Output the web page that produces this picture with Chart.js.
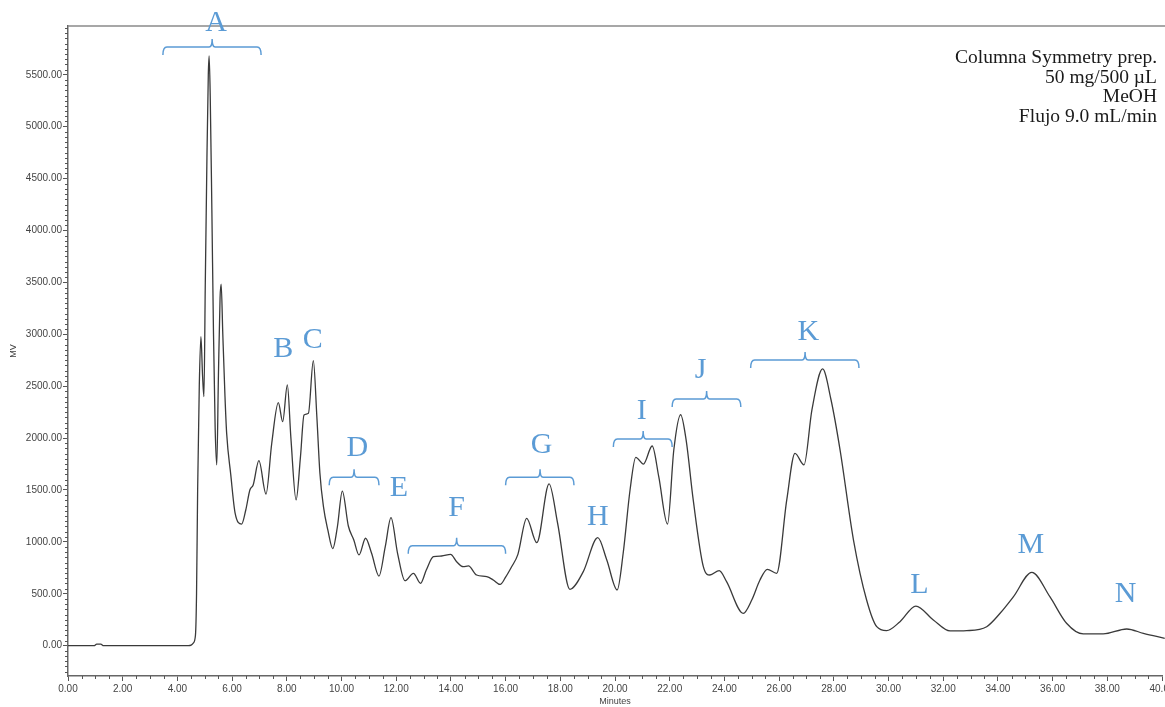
<!DOCTYPE html>
<html>
<head>
<meta charset="utf-8">
<title>Cromatograma</title>
<script src="https://cdn.jsdelivr.net/npm/chart.js@4/dist/chart.umd.min.js"></script>
<style>
    html, body { margin: 0; padding: 0; background: #ffffff; }
    #wrap { width: 1165px; height: 707px; }
</style>
</head>
<body>
<div id="wrap"><canvas id="chromatogram" width="1165" height="707"></canvas></div>
<script>
// retention time (minutes) and detector signal (MV)
var minutes = [
    0, 0.95, 1.05, 1.2, 1.3, 4.4, 4.5, 4.58, 4.66, 4.70, 4.74, 4.80, 4.86, 4.92, 4.97,
    5.02, 5.08, 5.13, 5.16, 5.20, 5.26, 5.32, 5.38, 5.44, 5.50, 5.56, 5.60, 5.66, 5.74,
    5.80, 5.95, 6.11, 6.35, 6.5, 6.65, 6.77, 6.98, 7.24, 7.45, 7.69, 7.85, 8.02, 8.15,
    8.34, 8.5, 8.63, 8.79, 8.97, 9.1, 9.21, 9.34, 9.5, 9.68, 9.85, 10.03, 10.25, 10.45,
    10.64, 10.88, 11.1, 11.37, 11.6, 11.81, 12.05, 12.32, 12.63, 12.89, 13.1, 13.36,
    13.66, 13.99, 14.21, 14.45, 14.64, 14.94, 15.31, 15.55, 15.8, 16.0, 16.22, 16.45,
    16.77, 17.14, 17.59, 17.9, 18.35, 18.84, 19.37, 19.7, 20.08, 20.3, 20.55, 20.76,
    21.04, 21.36, 21.6, 21.92, 22.15, 22.40, 22.6, 22.86, 23.23, 23.47, 23.81, 24.08,
    24.69, 25.0, 25.30, 25.57, 25.91, 26.28, 26.58, 26.91, 27.2, 27.59, 27.9, 28.23,
    28.72, 29.20, 29.57, 29.93, 30.42, 31.0, 31.64, 32.25, 32.86, 33.59, 34.08, 34.57,
    35.24, 35.90, 36.51, 37.12, 37.85, 38.71, 39.32, 40.1
];
var signal = [
    0, 0, 15, 15, 0, 0, 5, 25, 100, 500, 1500, 2500, 2977, 2600, 2400,
    3500, 4700, 5500, 5682, 5300, 4200, 3000, 2100, 1741, 2600, 3350, 3483, 3000, 2400,
    2049, 1650, 1278, 1172, 1307, 1500, 1548, 1782, 1461, 1950, 2341, 2158, 2512, 2000,
    1404, 1821, 2223, 2239, 2746, 2200, 1664, 1340, 1115, 935, 1146, 1490, 1153, 1018,
    874, 1035, 890, 671, 954, 1233, 890, 626, 697, 601, 729, 857,
    864, 880, 809, 761, 768, 681, 665, 633, 590, 660, 760, 880,
    1227, 992, 1558, 1182, 543, 713, 1041, 826, 537, 893, 1500, 1815,
    1750, 1924, 1628, 1172, 1885, 2225, 1982, 1404, 761, 681, 723, 617,
    312, 440, 633, 736, 697, 1404, 1853, 1741, 2271, 2666, 2367, 1885,
    1018, 440, 183, 145, 231, 382, 248, 142, 145, 183, 312, 472,
    707, 472, 216, 113, 113, 161, 119, 71
];

// tick labels
var xTickValues = [0, 2, 4, 6, 8, 10, 12, 14, 16, 18, 20, 22, 24, 26, 28, 30, 32, 34, 36, 38, 40];
var yTickValues = [0, 500, 1000, 1500, 2000, 2500, 3000, 3500, 4000, 4500, 5000, 5500];

// peak group labels: letter position and optional bracket (minutes / MV)
var peakLetters = ['A', 'B', 'C', 'D', 'E', 'F', 'G', 'H', 'I', 'J', 'K', 'L', 'M', 'N'];
var letterX = [5.41, 7.87, 8.95, 10.58, 12.10, 14.21, 17.32, 19.37, 20.98, 23.13, 27.07, 31.13, 35.20, 38.67];
var letterY = [5999, 2855, 2945, 1902, 1516, 1324, 1934, 1243, 2264, 2656, 3019, 585, 970, 498];
var bracketFrom = [3.47, null, null, 9.55, null, 12.44, 16.00, null, 19.94, 22.09, 24.96, null, null, null];
var bracketTo = [7.06, null, null, 11.37, null, 16.00, 18.50, null, 22.09, 24.60, 28.92, null, null, null];
var bracketMid = [5.27, null, null, 10.46, null, 14.21, 17.26, null, 21.03, 23.35, 26.95, null, null, null];
var bracketY = [5768, null, null, 1622, null, 963, 1622, null, 1991, 2377, 2752, null, null, null];

var conditions = ['Columna Symmetry prep.', '50 mg/500 \u00b5L', 'MeOH', 'Flujo 9.0 mL/min'];

var BLUE = '#5b9bd5';

/**
 * Draws minor ticks, the frame top line, the peak labels and the run conditions
 */
var decorPlugin = {
    id: 'decor',
    afterDraw: function(chart) {
        var ctx = chart.ctx;
        var xs = chart.scales.x;
        var ys = chart.scales.y;
        var area = chart.chartArea;

        ctx.save();

        // frame top line
        ctx.strokeStyle = '#8a8a8a';
        ctx.lineWidth = 1.5;
        ctx.beginPath();
        ctx.moveTo(area.left, area.top);
        ctx.lineTo(chart.width, area.top);
        ctx.stroke();

        // minor ticks
        ctx.strokeStyle = '#555';
        ctx.lineWidth = 1;
        ctx.beginPath();
        for (var m = 0; m <= 40; m += 0.5) {
            if (m % 2 === 0) continue;
            var px = Math.round(xs.getPixelForValue(m)) + 0.5;
            ctx.moveTo(px, area.bottom);
            ctx.lineTo(px, area.bottom + 3);
        }
        for (var v = -250; v <= 5950; v += 50) {
            if (v % 500 === 0) continue;
            var py = Math.round(ys.getPixelForValue(v)) + 0.5;
            ctx.moveTo(area.left, py);
            ctx.lineTo(area.left - 3, py);
        }
        ctx.stroke();

        // peak letters and brackets
        ctx.fillStyle = BLUE;
        ctx.strokeStyle = BLUE;
        ctx.lineWidth = 1.5;
        ctx.font = '30px "Liberation Serif", "DejaVu Serif", serif';
        ctx.textAlign = 'center';
        ctx.textBaseline = 'middle';
        peakLetters.forEach(function(letter, i) {
            ctx.fillText(letter, xs.getPixelForValue(letterX[i]), ys.getPixelForValue(letterY[i]));
            if (bracketFrom[i] === null) return;
            var x1 = xs.getPixelForValue(bracketFrom[i]);
            var x2 = xs.getPixelForValue(bracketTo[i]);
            var xm = xs.getPixelForValue(bracketMid[i]);
            var y = ys.getPixelForValue(bracketY[i]);
            ctx.beginPath();
            ctx.moveTo(x1, y + 8);
            ctx.quadraticCurveTo(x1, y, x1 + 4, y);
            ctx.lineTo(xm - 3, y);
            ctx.quadraticCurveTo(xm, y, xm, y - 8);
            ctx.quadraticCurveTo(xm, y, xm + 3, y);
            ctx.lineTo(x2 - 4, y);
            ctx.quadraticCurveTo(x2, y, x2, y + 8);
            ctx.stroke();
        });

        // run conditions, top right
        ctx.fillStyle = '#1a1a1a';
        ctx.font = '19.5px "Liberation Serif", "DejaVu Serif", serif';
        ctx.textAlign = 'right';
        conditions.forEach(function(line, i) {
            ctx.fillText(line, 1157, 58 + i * 19.6);
        });

        ctx.restore();
    }
};

var points = minutes.map(function(t, i) {
    return { x: t, y: signal[i] };
});

new Chart(document.getElementById('chromatogram'), {
    type: 'line',
    data: {
        datasets: [{
            data: points,
            borderColor: '#3a3a3a',
            borderWidth: 1.3,
            pointRadius: 0,
            fill: false,
            cubicInterpolationMode: 'monotone',
            clip: { left: 0, top: 0, right: 10, bottom: 0 }
        }]
    },
    options: {
        responsive: false,
        animation: false,
        layout: {
            padding: { top: 26, right: 3, left: 0, bottom: 0 }
        },
        plugins: {
            legend: { display: false },
            tooltip: { enabled: false }
        },
        scales: {
            x: {
                type: 'linear',
                min: 0,
                max: 40,
                afterBuildTicks: function(scale) {
                    scale.ticks = xTickValues.map(function(v) { return { value: v }; });
                },
                afterFit: function(scale) {
                    scale.height = 31;
                    scale.paddingLeft = 0;
                    scale.paddingRight = 0;
                },
                ticks: {
                    callback: function(value) { return value.toFixed(2); },
                    autoSkip: false,
                    maxRotation: 0,
                    padding: 2,
                    color: '#444',
                    font: { family: 'Liberation Sans', size: 10 }
                },
                grid: {
                    drawOnChartArea: false,
                    tickLength: 5,
                    color: '#555'
                },
                border: { color: '#666', width: 1.5 },
                title: {
                    display: true,
                    text: 'Minutes',
                    color: '#444',
                    padding: { top: 0, bottom: 0 },
                    font: { family: 'Liberation Sans', size: 9 }
                }
            },
            y: {
                min: -292,
                max: 5970,
                afterBuildTicks: function(scale) {
                    scale.ticks = yTickValues.map(function(v) { return { value: v }; });
                },
                afterFit: function(scale) {
                    scale.width = 68;
                    scale.paddingTop = 0;
                    scale.paddingBottom = 0;
                },
                ticks: {
                    callback: function(value) { return value.toFixed(2); },
                    autoSkip: false,
                    padding: 1,
                    color: '#444',
                    font: { family: 'Liberation Sans', size: 10 }
                },
                grid: {
                    drawOnChartArea: false,
                    tickLength: 5,
                    color: '#555'
                },
                border: { color: '#666', width: 1.5 },
                title: {
                    display: true,
                    text: 'MV',
                    color: '#444',
                    padding: { top: 8, bottom: 0 },
                    font: { family: 'Liberation Sans', size: 9 }
                }
            }
        }
    },
    plugins: [decorPlugin]
});
</script>
</body>
</html>
